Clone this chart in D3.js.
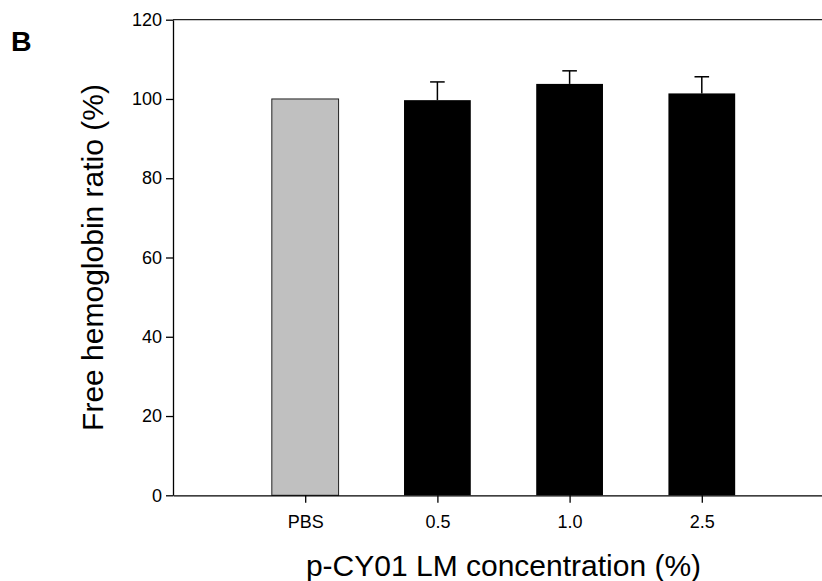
<!DOCTYPE html>
<html>
<head>
<meta charset="utf-8">
<script src="https://cdn.jsdelivr.net/npm/d3@7"></script>
<style>
  html, body { margin: 0; padding: 0; background: #fff; }
  svg { display: block; font-family: "Liberation Sans", Arial, sans-serif; }
</style>
</head>
<body>
<svg id="chart" width="822" height="581"></svg>
<script>
// Free hemoglobin ratio by p-CY01 LM concentration
const categories = ["PBS", "0.5", "1.0", "2.5"];
const means = [100, 99.7, 103.8, 101.4];
const errors = [0, 4.6, 3.3, 4.2];
const barColors = ["#c0c0c0", "#000000", "#000000", "#000000"];
const yTicks = [0, 20, 40, 60, 80, 100, 120];

const svg = d3.select("#chart");

const x = d3.scaleLinear().domain([0, 5]).range([173, 834]);
const y = d3.scaleLinear().domain([0, 120]).range([495.3, 19.7]);
const slot = x(1) - x(0);
const barW = slot * 0.505;
const capW = 14.6;

// Bars
svg.append("g")
  .selectAll("rect")
  .data(categories)
  .join("rect")
  .attr("x", (d, i) => x(i + 1) - barW / 2)
  .attr("y", (d, i) => y(means[i]))
  .attr("width", barW)
  .attr("height", (d, i) => y(0) - y(means[i]))
  .attr("fill", (d, i) => barColors[i])
  .attr("stroke", (d, i) => i === 0 ? "#222" : "none")
  .attr("stroke-width", 1);

// Error bars (upper whisker only)
const eb = svg.append("g").attr("stroke", "#000").attr("stroke-width", 1.5);
categories.forEach((c, i) => {
  if (!errors[i]) return;
  const cx = x(i + 1);
  eb.append("line")
    .attr("x1", cx).attr("x2", cx)
    .attr("y1", y(means[i])).attr("y2", y(means[i] + errors[i]));
  eb.append("line")
    .attr("x1", cx - capW / 2).attr("x2", cx + capW / 2)
    .attr("y1", y(means[i] + errors[i])).attr("y2", y(means[i] + errors[i]));
});

// Top frame line
svg.append("line")
  .attr("x1", x(0)).attr("x2", x(5))
  .attr("y1", y(120)).attr("y2", y(120))
  .attr("stroke", "#222").attr("stroke-width", 1.3);

// Y axis
const yAxis = svg.append("g")
  .attr("transform", `translate(${x(0)},0)`)
  .call(d3.axisLeft(y).tickValues(yTicks).tickSize(7).tickSizeOuter(0).tickPadding(4));
yAxis.selectAll("text").attr("font-size", 18).attr("fill", "#000")
  .attr("font-family", '"Liberation Sans", Arial, sans-serif');
yAxis.selectAll("line, path").attr("stroke", "#000").attr("stroke-width", 1.3);

// X axis
const xAxis = svg.append("g")
  .attr("transform", `translate(0,${y(0)})`)
  .call(d3.axisBottom(x).tickValues([1, 2, 3, 4])
    .tickFormat((d) => categories[d - 1])
    .tickSize(7.5).tickSizeOuter(0).tickPadding(12));
xAxis.selectAll("text").attr("font-size", 18).attr("fill", "#000")
  .attr("font-family", '"Liberation Sans", Arial, sans-serif');
xAxis.selectAll("line, path").attr("stroke", "#000").attr("stroke-width", 1.3);

// Axis titles
svg.append("text")
  .attr("x", (x(1) + x(4)) / 2)
  .attr("y", 576)
  .attr("text-anchor", "middle")
  .attr("font-size", 30)
  .text("p-CY01 LM concentration (%)");

svg.append("text")
  .attr("transform", `translate(103,${(y(0) + y(120)) / 2}) rotate(-90)`)
  .attr("text-anchor", "middle")
  .attr("font-size", 30)
  .text("Free hemoglobin ratio (%)");

// Panel letter
svg.append("text")
  .attr("x", 11)
  .attr("y", 51)
  .attr("font-size", 28.5)
  .attr("font-weight", "bold")
  .text("B");
</script>
</body>
</html>
